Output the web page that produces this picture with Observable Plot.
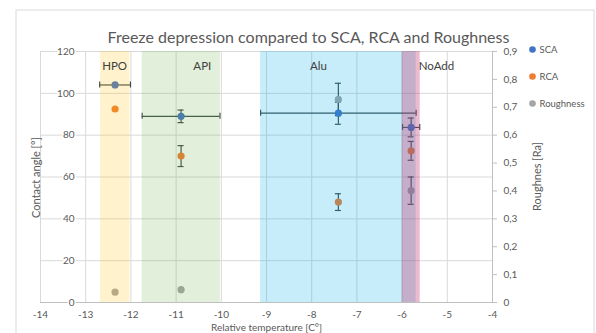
<!DOCTYPE html>
<html><head><meta charset="utf-8">
<script src="https://cdn.jsdelivr.net/npm/d3@7"></script>
<script src="https://cdn.jsdelivr.net/npm/@observablehq/plot@0.6"></script>
<style>body{margin:0;background:#fff} #chart svg{font-family:Lato,"Open Sans",sans-serif;display:block}</style>
</head><body><div id="chart"></div>
<script>
// ---- data ----
const samples = ["HPO", "API", "Alu", "NoAdd"];
const temp = [-12.35, -10.89, -7.41, -5.8];
const tempErr = [0.34, 0.86, 1.72, 0.19];
const sca = [104, 89, 90.5, 83.7];
const scaErr = [0, 3, 5.3, 4.5];
const rca = [92.5, 70, 48, 72.5];
const rcaErr = [0, 5, 4, 4.5];
const rough = [0.037, 0.046, 0.728, 0.401];
const roughErr = [0, 0, 0.058, 0.049];
const bandStart = [-12.67, -11.75, -9.13, -6.0];
const bandEnd = [-12.02, -10.02, -5.69, -5.6];
const bandLabelX = [-12.36, -10.42, -7.85, -5.24];
const seriesNames = ["SCA", "RCA", "Roughness"];
const seriesColors = ["#4472C4", "#ED7D31", "#A5A5A5"];
const xTicks = [-14, -13, -12, -11, -10, -9, -8, -7, -6, -5, -4];
const yTicks = [0, 20, 40, 60, 80, 100, 120];
const rTicks = [0, 0.1, 0.2, 0.3, 0.4, 0.5, 0.6, 0.7, 0.8, 0.9];
const rTickLabels = ["0", "0,1", "0,2", "0,3", "0,4", "0,5", "0,6", "0,7", "0,8", "0,9"];
const titleText = "Freeze depression compared to SCA, RCA and Roughness";
const xTitle = "Relative temperature [C°]";
const yTitle = "Contact angle [°]";
const rTitle = "Roughnes [Ra]";

// ---- derived tables ----
const ratio = 120 / 0.9; // right axis -> left axis
const pxX = 45.2, pxY = 251 / 120; // pixels per unit
const bandFill = ["#ffc000", "#70ad47", "#00a8e8", "#c0306a"];
const bandOpacity = [0.2, 0.2, 0.22, 0.33];
const bands = samples.map((s, i) => ({s, x1: bandStart[i], x2: bandEnd[i], lx: bandLabelX[i], fill: bandFill[i], op: bandOpacity[i]}));
const pts = [];
samples.forEach((s, i) => {
  pts.push({s, series: "SCA", x: temp[i], xErr: tempErr[i], y: sca[i], yErr: scaErr[i]});
  pts.push({s, series: "RCA", x: temp[i], xErr: 0, y: rca[i], yErr: rcaErr[i]});
  pts.push({s, series: "Roughness", x: temp[i], xErr: 0, y: rough[i] * ratio, yErr: roughErr[i] * ratio});
});
const vErr = pts.filter(d => d.yErr > 0);
const hErr = pts.filter(d => d.xErr > 0);
const capX = 3 / pxX, capY = 3 / pxY;
const errColor = "#3e4c4c";
const txt = "#595959";
// legend placed just right of the plot, in scale units
const legX = -4 + 40 / pxX, legTextX = -4 + 47 / pxX;
const legend = seriesNames.map((n, i) => ({n, c: seriesColors[i], y: 120 + (2 - i * 27) / pxY}));
const leftLabelX = -14 + 34 / pxX;
const rightLabelX = -4 + 11 / pxX;

const chart = Plot.plot({
  width: 596, height: 333,
  marginLeft: 0, marginRight: 0, marginTop: 0, marginBottom: 0,
  x: {domain: [-14, -4], range: [40, 492], axis: null},
  y: {domain: [0, 120], range: [302, 51], axis: null},
  color: {domain: seriesNames, range: seriesColors},
  marks: [
    Plot.frame({stroke: "#d9d9d9", insetLeft: 15.5, insetTop: 9.5, insetRight: 2.5, insetBottom: -5}),
    // grid
    Plot.ruleY(yTicks, {y: d => d, x1: -14, x2: -4, stroke: "#d9d9d9"}),
    Plot.ruleX(xTicks, {x: d => d, y1: 0, y2: 120, stroke: "#d9d9d9"}),
    Plot.ruleY([0], {y: d => d, x1: -14, x2: -4, stroke: "#bfbfbf"}),
    Plot.ruleX([-4], {x: d => d, y1: 0, y2: 120, stroke: "#bfbfbf"}),
    Plot.ruleY(rTicks, {y: d => d * ratio, x1: -4, x2: -4 + 5 / pxX, stroke: "#bfbfbf"}),
    // error bars
    Plot.ruleX(vErr, {x: "x", y1: d => d.y - d.yErr, y2: d => d.y + d.yErr, stroke: errColor, strokeWidth: 1.2}),
    Plot.ruleY(vErr, {y: d => d.y - d.yErr, x1: d => d.x - capX, x2: d => d.x + capX, stroke: errColor, strokeWidth: 1.2}),
    Plot.ruleY(vErr, {y: d => d.y + d.yErr, x1: d => d.x - capX, x2: d => d.x + capX, stroke: errColor, strokeWidth: 1.2}),
    Plot.ruleY(hErr, {y: "y", x1: d => d.x - d.xErr, x2: d => d.x + d.xErr, stroke: errColor, strokeWidth: 1.2}),
    Plot.ruleX(hErr, {x: d => d.x - d.xErr, y1: d => d.y - capY, y2: d => d.y + capY, stroke: errColor, strokeWidth: 1.2}),
    Plot.ruleX(hErr, {x: d => d.x + d.xErr, y1: d => d.y - capY, y2: d => d.y + capY, stroke: errColor, strokeWidth: 1.2}),
    // points
    Plot.dot(pts, {x: "x", y: "y", fill: "series", r: 3.6}),
    // bands (translucent, over the points as in the source)
    Plot.rect(bands, {x1: "x1", x2: "x2", y1: 0, y2: 120, fill: "fill", fillOpacity: "op"}),
    Plot.text(bands, {x: "lx", y: 112.8, text: "s", fill: "#404040", fontSize: 11.5}),
    // tick labels
    Plot.text(yTicks, {x: leftLabelX, y: d => d, text: d => String(d), textAnchor: "end", fill: txt, fontSize: 10, stroke: "white", strokeWidth: 3, paintOrder: "stroke"}),
    Plot.text(rTicks, {x: rightLabelX, y: d => d * ratio, text: (d, i) => rTickLabels[i], textAnchor: "start", fill: txt, fontSize: 10}),
    Plot.text(xTicks, {x: d => d, y: -12.5 / pxY, text: d => String(d), fill: txt, fontSize: 10}),
    // titles
    Plot.text([xTitle], {frameAnchor: "top-left", dx: 266, dy: 323.5, textAnchor: "middle", fill: txt, fontSize: 10}),
    Plot.text([titleText], {frameAnchor: "top-left", dx: 308, dy: 31, textAnchor: "middle", fill: txt, fontSize: 16}),
    Plot.text([yTitle], {frameAnchor: "top-left", dx: 32, dy: 177, rotate: -90, textAnchor: "middle", fill: txt, fontSize: 11}),
    Plot.text([rTitle], {frameAnchor: "top-left", dx: 533, dy: 176, rotate: -90, textAnchor: "middle", fill: txt, fontSize: 11}),
    // legend
    Plot.dot(legend, {x: legX, y: "y", fill: "c", r: 3.3}),
    Plot.text(legend, {x: legTextX, y: "y", text: "n", textAnchor: "start", fill: txt, fontSize: 9.5})
  ]
});
document.getElementById("chart").append(chart);
</script>
</body></html>
